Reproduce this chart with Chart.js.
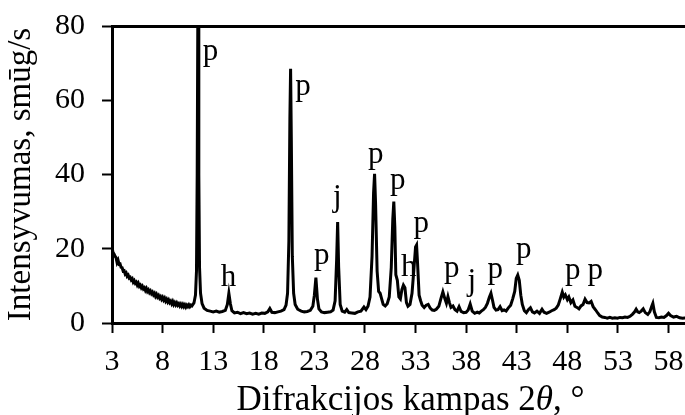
<!DOCTYPE html>
<html>
<head>
<meta charset="utf-8">
<script src="https://cdn.jsdelivr.net/npm/chart.js@4.4.1/dist/chart.umd.min.js"></script>
<style>
  html, body { margin: 0; padding: 0; background: #fff; overflow: hidden; }
  #wrap { width: 710px; height: 415px; }
</style>
</head>
<body>
<div id="wrap"><canvas id="xrd" width="710" height="415"></canvas></div>
<script>
// diffraction angle 2θ (deg) and intensity (counts/s)
const angles = [
  3.0, 3.1, 3.2, 3.3, 3.4, 3.5, 3.6, 3.7, 3.8, 3.9,
  4.0, 4.1, 4.2, 4.3, 4.4, 4.5, 4.6, 4.7, 4.8, 4.9,
  5.0, 5.1, 5.2, 5.3, 5.4, 5.5, 5.6, 5.7, 5.8, 5.9,
  6.0, 6.1, 6.2, 6.3, 6.4, 6.5, 6.6, 6.7, 6.8, 6.9,
  7.0, 7.1, 7.2, 7.3, 7.4, 7.5, 7.6, 7.7, 7.8, 7.9,
  8.0, 8.1, 8.2, 8.3, 8.4, 8.5, 8.6, 8.7, 8.8, 8.9,
  9.0, 9.1, 9.2, 9.3, 9.4, 9.5, 9.6, 9.7, 9.8, 9.9,
  10.0, 10.1, 10.2, 10.3, 10.4, 10.5, 10.6, 10.7, 10.8, 10.9,
  11.0, 11.1, 11.25, 11.35, 11.42, 11.5, 11.58, 11.65, 11.75, 11.9,
  12.1, 12.4, 12.7, 13.0, 13.3, 13.6, 13.9, 14.2, 14.4, 14.55,
  14.7, 14.85, 15.1, 15.4, 15.7, 16.0, 16.3, 16.6, 16.9, 17.2,
  17.5, 17.8, 18.1, 18.4, 18.6, 18.8, 19.1, 19.4, 19.7, 20.0,
  20.2, 20.35, 20.48, 20.58, 20.65, 20.72, 20.82, 20.95, 21.1, 21.35,
  21.7, 22.0, 22.3, 22.6, 22.85, 23.0, 23.15, 23.3, 23.45, 23.7,
  24.0, 24.3, 24.6, 24.85, 25.05, 25.2, 25.3, 25.4, 25.55, 25.75,
  26.0, 26.2, 26.4, 26.7, 27.0, 27.3, 27.6, 27.9, 28.1, 28.3,
  28.5, 28.7, 28.85, 28.95, 29.05, 29.2, 29.35, 29.5, 29.65, 29.8,
  30.0, 30.2, 30.4, 30.6, 30.75, 30.85, 30.95, 31.05, 31.2, 31.35,
  31.5, 31.65, 31.8, 31.95, 32.1, 32.25, 32.45, 32.65, 32.85, 33.0,
  33.1, 33.2, 33.35, 33.5, 33.65, 33.85, 34.05, 34.25, 34.45, 34.65,
  34.85, 35.05, 35.3, 35.5, 35.7, 35.9, 36.05, 36.2, 36.35, 36.5,
  36.7, 36.9, 37.1, 37.3, 37.5, 37.75, 38.0, 38.2, 38.4, 38.6,
  38.85, 39.1, 39.3, 39.5, 39.7, 39.9, 40.1, 40.3, 40.45, 40.6,
  40.75, 40.95, 41.15, 41.35, 41.55, 41.75, 41.95, 42.15, 42.4, 42.6,
  42.8, 42.95, 43.1, 43.25, 43.4, 43.55, 43.75, 43.95, 44.15, 44.35,
  44.55, 44.75, 45.0, 45.25, 45.5, 45.7, 45.95, 46.2, 46.45, 46.7,
  46.9, 47.1, 47.3, 47.5, 47.65, 47.8, 48.0, 48.15, 48.35, 48.55,
  48.75, 48.95, 49.15, 49.35, 49.55, 49.75, 49.95, 50.15, 50.35, 50.55,
  50.8, 51.0, 51.2, 51.45, 51.7, 51.95, 52.2, 52.45, 52.7, 52.95,
  53.2, 53.45, 53.7, 53.95, 54.2, 54.45, 54.65, 54.8, 54.95, 55.1,
  55.3, 55.5, 55.7, 55.95, 56.15, 56.35, 56.45, 56.6, 56.8, 57.05,
  57.3, 57.55, 57.8, 58.0, 58.2, 58.5, 58.8, 59.1, 59.4, 59.8
];
const counts = [
  20.4, 19.0, 18.6, 18.0, 17.6, 16.3, 16.9, 15.8, 15.9, 15.0,
  14.9, 14.0, 14.1, 13.2, 13.5, 12.6, 12.9, 12.1, 12.3, 11.6,
  11.9, 11.0, 11.4, 10.7, 11.0, 10.2, 10.7, 9.9, 10.2, 9.5,
  9.9, 9.2, 9.5, 8.8, 9.3, 8.5, 8.9, 8.2, 8.6, 7.9,
  8.3, 7.6, 8.0, 7.2, 7.7, 7.0, 7.4, 6.7, 7.1, 6.4,
  6.9, 6.2, 6.7, 5.9, 6.4, 5.7, 6.2, 5.5, 5.9, 5.2,
  5.8, 5.0, 5.5, 4.9, 5.4, 4.8, 5.2, 4.6, 5.1, 4.5,
  5.0, 4.4, 4.9, 4.3, 4.8, 4.4, 4.9, 4.4, 4.8, 4.6,
  5.0, 5.4, 7.5, 14, 40, 95, 40, 15, 8, 5.2,
  4.0, 3.4, 3.2, 3.0, 3.2, 2.9, 3.1, 3.4, 5.0, 8.0,
  5.2, 3.3, 2.7, 2.9, 2.5, 2.8, 2.5, 2.7, 2.4, 2.6,
  2.4, 2.7, 2.6, 3.0, 3.9, 2.9, 2.8, 3.0, 3.2, 3.6,
  4.8, 8, 22, 55, 68.5, 50, 18, 8, 5, 3.7,
  3.2, 3.0, 3.1, 3.4, 4.5, 7.5, 12.2, 6.5, 3.8, 3.0,
  2.8, 2.9, 3.0, 3.5, 6, 17, 27.2, 15, 5, 3.2,
  2.9, 3.6, 2.8, 2.7, 2.6, 3.0, 3.2, 4.3, 3.6, 4.5,
  7, 18, 35, 40.2, 32, 14, 8.5, 8, 6.5, 5,
  4.6, 5.2, 7, 15, 28, 32.7, 26, 13, 11.5, 7,
  6.5, 9, 10.2, 9.5, 5.5, 4.5, 5, 8, 15, 20.5,
  21, 16, 7.5, 6, 4.8, 4.2, 4.8, 5.0, 4.0, 3.5,
  3.4, 3.7, 4.5, 6.5, 8.4, 6.5, 5.3, 7.1, 5.5, 4.2,
  4.6, 3.6, 3.2, 4.4, 3.1, 2.8, 2.9, 3.5, 5.1, 3.2,
  2.6, 2.9, 2.7, 3.2, 3.6, 4.2, 5.3, 7, 8, 6.2,
  4.2, 3.5, 3.6, 4.4, 3.3, 3.5, 3.2, 4, 4.8, 6.5,
  8.5, 12, 12.9, 11.5, 7.5, 5, 3.3, 2.8, 3.6, 4.1,
  3.0, 2.7, 3.2, 2.6, 3.7, 2.9, 2.6, 2.9, 3.3, 3.6,
  4.0, 4.8, 6.5, 8.3, 7.0, 7.6, 6.3, 7.0, 5.5, 6.2,
  4.5, 4.2, 3.8, 4.6, 5.0, 6.4, 5.5, 5.4, 5.8, 4.4,
  3.5, 2.7, 2.0, 1.6, 1.5, 1.3, 1.5, 1.3, 1.4, 1.3,
  1.5, 1.4, 1.6, 1.5, 1.8, 2.4, 3.0, 3.7, 3.0, 2.8,
  3.2, 3.8, 2.8, 2.3, 3.0, 4.6, 5.3, 3.0, 1.5, 1.4,
  1.6, 1.5, 2.0, 2.6, 2.0, 1.6, 1.8, 1.4, 1.3, 1.4
];

const xTicks = [3, 8, 13, 18, 23, 28, 33, 38, 43, 48, 53, 58];
const yTicks = [0, 20, 40, 60, 80];

// phase marks over the peaks (p, h, j), placed in data units
const tagText   = ['p', 'p', 'h', 'p', 'j', 'p', 'p', 'h', 'p', 'p', 'j', 'p', 'p', 'p', 'p'];
const tagAngle  = [12.73, 21.87, 14.52, 23.74, 25.27, 29.07, 31.24, 32.33, 33.56, 36.58, 38.55, 40.87, 43.69, 48.53, 50.76];
const tagCount  = [70.8, 61.4, 9.97, 16.0, 31.4, 43.0, 36.2, 12.7, 24.6, 12.5, 8.9, 12.1, 17.4, 11.9, 11.9];

const serif = "'Liberation Serif', 'Times New Roman', serif";

const peakTags = {
  id: 'peakTags',
  afterDatasetsDraw(chart) {
    const { ctx, scales: { x, y } } = chart;
    ctx.save();
    ctx.fillStyle = '#000';
    ctx.font = '31px ' + serif;
    ctx.textAlign = 'center';
    ctx.textBaseline = 'alphabetic';
    tagText.forEach((t, i) => {
      ctx.fillText(t, x.getPixelForValue(tagAngle[i]), y.getPixelForValue(tagCount[i]));
    });
    ctx.restore();
  }
};

// x-axis title with an italic theta
const xTitle = {
  id: 'xTitle',
  afterDraw(chart) {
    const ctx = chart.ctx;
    const area = chart.chartArea;
    const parts = [
      { text: 'Difrakcijos kampas 2', style: '' },
      { text: 'θ', style: 'italic ' },
      { text: ', °', style: '' }
    ];
    ctx.save();
    ctx.fillStyle = '#000';
    ctx.textAlign = 'left';
    ctx.textBaseline = 'alphabetic';
    const widths = parts.map(p => {
      ctx.font = p.style + '35px ' + serif;
      return ctx.measureText(p.text).width;
    });
    const total = widths.reduce((a, b) => a + b, 0);
    let px = (area.left + area.right) / 2 - total / 2;
    const py = area.bottom + 87;
    parts.forEach((p, i) => {
      ctx.font = p.style + '35px ' + serif;
      ctx.fillText(p.text, px, py);
      px += widths[i];
    });
    ctx.restore();
  }
};

new Chart(document.getElementById('xrd'), {
  type: 'line',
  data: {
    datasets: [{
      data: angles.map((a, i) => ({ x: a, y: counts[i] })),
      borderColor: '#000',
      borderWidth: 3,
      pointRadius: 0,
      tension: 0,
      fill: false
    }]
  },
  options: {
    responsive: false,
    animation: false,
    layout: { padding: { top: 26, right: 1, left: 0, bottom: 0 } },
    plugins: { legend: { display: false }, tooltip: { enabled: false } },
    scales: {
      x: {
        type: 'linear',
        min: 3,
        max: 62,
        afterBuildTicks: s => { s.ticks = xTicks.map(v => ({ value: v })); },
        afterFit: s => { s.height = 92; s.paddingLeft = 0; s.paddingRight = 0; },
        ticks: { font: { family: serif, size: 30 }, color: '#000', padding: 11, maxRotation: 0, autoSkip: false },
        grid: { drawOnChartArea: false, tickLength: 10, tickWidth: 2, tickColor: '#000' },
        border: { color: '#000', width: 3 }
      },
      y: {
        min: 0,
        max: 80,
        afterBuildTicks: s => { s.ticks = yTicks.map(v => ({ value: v })); },
        afterFit: s => { s.width = 112; s.paddingTop = 0; s.paddingBottom = 0; },
        ticks: { font: { family: serif, size: 30 }, color: '#000', padding: 17 },
        grid: {
          color: c => (c.tick && c.tick.value === 80 ? '#000' : 'rgba(0,0,0,0)'),
          lineWidth: 3,
          tickLength: 10,
          tickWidth: 2,
          tickColor: '#000'
        },
        border: { color: '#000', width: 3 },
        title: {
          display: true,
          text: 'Intensyvumas, smūg/s',
          font: { family: serif, size: 33 },
          color: '#000',
          padding: { top: 2, bottom: 0 }
        }
      }
    }
  },
  plugins: [peakTags, xTitle]
});
</script>
</body>
</html>
